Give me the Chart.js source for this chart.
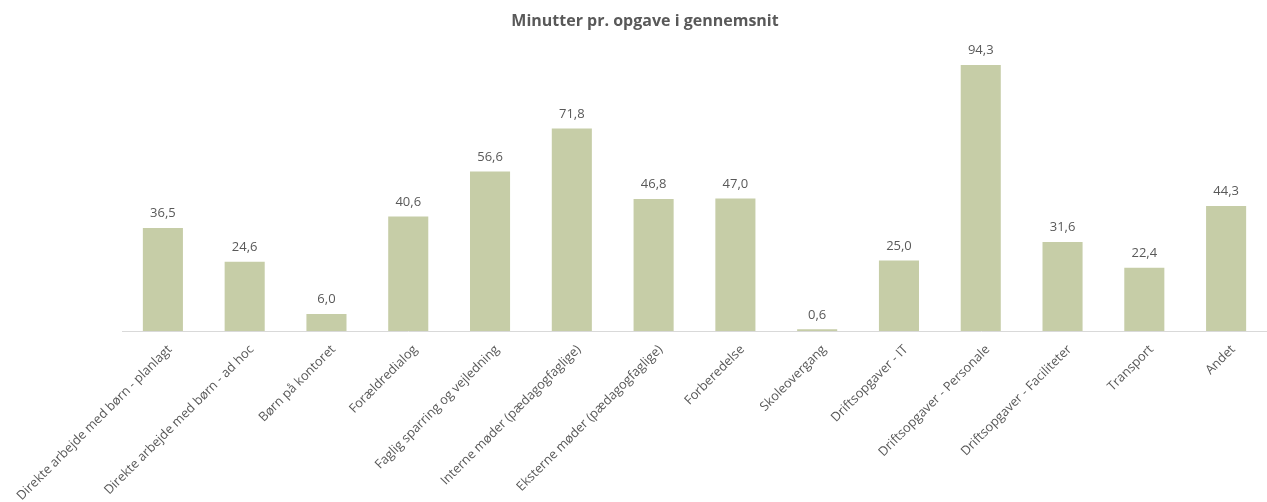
<!DOCTYPE html>
<html><head><meta charset="utf-8">
<script src="https://cdn.jsdelivr.net/npm/chart.js@4"></script>
<style>html,body{margin:0;padding:0;background:#fff}#wrap{width:1267px;height:502px}</style>
</head><body><div id="wrap"><canvas id="c"></canvas></div>
<script>
const categories = ["Direkte arbejde med børn - planlagt","Direkte arbejde med børn - ad hoc","Børn på kontoret","Forældredialog","Faglig sparring og vejledning","Interne møder (pædagogfaglige)","Eksterne møder (pædagogfaglige)","Forberedelse","Skoleovergang","Driftsopgaver - IT","Driftsopgaver - Personale","Driftsopgaver - Faciliteter","Transport","Andet"];
const values = [36.5,24.6,6.0,40.6,56.6,71.8,46.8,47.0,0.6,25.0,94.3,31.6,22.4,44.3];
const title = "Minutter pr. opgave i gennemsnit";

const labelPlugin = {
  id:'vals',
  afterDatasetsDraw(chart){
    const ctx = chart.ctx;
    const meta = chart.getDatasetMeta(0);
    ctx.save();
    ctx.font = '13px "Open Sans", sans-serif';
    ctx.fillStyle = '#595959';
    ctx.textAlign = 'center';
    ctx.textBaseline = 'bottom';
    meta.data.forEach((bar,i)=>{
      ctx.fillText(values[i].toFixed(1).replace('.',','), bar.x, bar.y-8);
    });
    ctx.restore();
  }
};

const titlePlugin = {
  id:'ttl',
  afterDraw(chart){
    const ctx = chart.ctx;
    ctx.save();
    ctx.font = 'bold 16px "Open Sans", sans-serif';
    ctx.fillStyle = '#595959';
    ctx.textAlign = 'center';
    ctx.textBaseline = 'middle';
    ctx.fillText(title, 645, 21);
    ctx.restore();
  }
};

new Chart(document.getElementById('c'),{
  type:'bar',
  data:{labels:categories,datasets:[{data:values,backgroundColor:'#c6cda7',borderWidth:0,barPercentage:0.49,categoryPercentage:1}]},
  options:{
    responsive:true,maintainAspectRatio:false,animation:false,
    layout:{padding:{left:0,right:0,top:49,bottom:0}},
    plugins:{legend:{display:false},tooltip:{enabled:false},title:{display:false}},
    scales:{
      x:{offset:true,grid:{display:false},border:{display:true,color:'#d9d9d9',width:1},
        afterFit(s){ s.height = 171; },
        ticks:{color:'#595959',font:{family:'"Open Sans", sans-serif',size:12.8},minRotation:45,maxRotation:45,autoSkip:false,padding:3,labelOffset:7}},
      y:{display:true,min:0,max:100,grid:{display:false},border:{display:false},ticks:{display:false},
        afterFit(s){ s.width = 122; }}
    }
  },
  plugins:[labelPlugin,titlePlugin]
});
</script></body></html>
